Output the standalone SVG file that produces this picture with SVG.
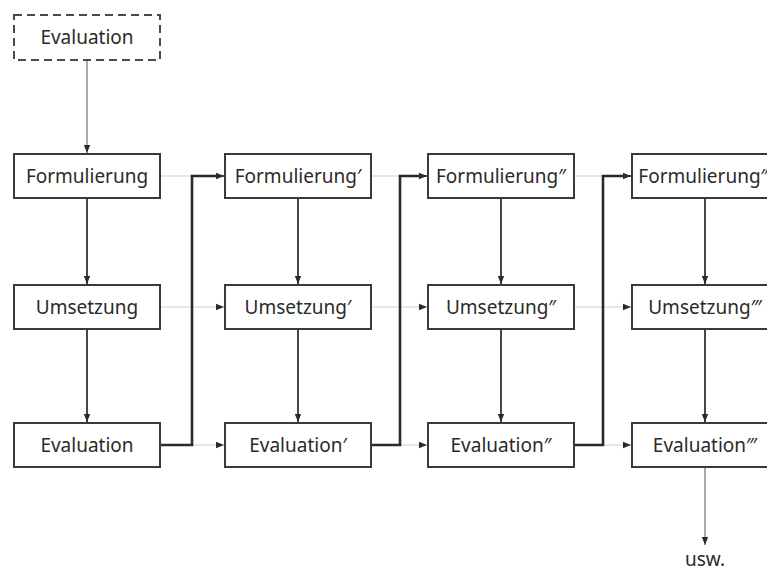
<svg xmlns="http://www.w3.org/2000/svg" width="767" height="571" viewBox="0 0 767 571">
  <style>
    .box { fill: #fff; stroke: #3a3a3a; stroke-width: 2; }
    .dash { fill: #fff; stroke: #4a4a4a; stroke-width: 2; stroke-dasharray: 8 5; }
    .lbl { font-family: "Noto Sans", "Open Sans", "DejaVu Sans", sans-serif; font-size: 19px; fill: #2a2a2a; text-anchor: middle; }
    .down { fill: none; stroke: #333; stroke-width: 1.8; marker-end: url(#head); }
    .thin { fill: none; stroke: #555; stroke-width: 1; marker-end: url(#head); }
    .faint { fill: none; stroke: #d0d0d0; stroke-width: 1; }
    .faintArrow { fill: none; stroke: #d0d0d0; stroke-width: 1; marker-end: url(#head); }
    .loop { fill: none; stroke: #2a2a2a; stroke-width: 2.6; stroke-linejoin: miter; }
  </style>
  <defs>
    <marker id="head" viewBox="0 0 10 10" refX="10" refY="5" markerWidth="8" markerHeight="8" markerUnits="userSpaceOnUse" orient="auto">
      <path d="M0,1 L10,5 L0,9 z" fill="#2a2a2a"/>
    </marker>
  </defs>

  <rect width="767" height="571" fill="#fff"/>

  <g id="connectors">
    <!-- start arrow -->
    <path class="thin" d="M87,60 V153"/>
    <!-- faint row links -->
    <path class="faint" d="M160,176 H192"/>
    <path class="faintArrow" d="M160,307 H224"/>
    <path class="faintArrow" d="M160,445 H224"/>
    <path class="faint" d="M371,176 H400"/>
    <path class="faintArrow" d="M371,307 H427"/>
    <path class="faintArrow" d="M371,445 H427"/>
    <path class="faint" d="M574,176 H603"/>
    <path class="faintArrow" d="M574,307 H631"/>
    <path class="faintArrow" d="M574,445 H631"/>
    <!-- column flows -->
    <path class="down" d="M87,198 V284"/>
    <path class="down" d="M87,329 V422"/>
    <path class="down" d="M298,198 V284"/>
    <path class="down" d="M298,329 V422"/>
    <path class="down" d="M501,198 V284"/>
    <path class="down" d="M501,329 V422"/>
    <path class="down" d="M705,198 V284"/>
    <path class="down" d="M705,329 V422"/>
    <!-- feedback loops -->
    <path class="loop" d="M160,445 H192 V176 H220"/>
    <path class="down" d="M218,176 H224"/>
    <path class="loop" d="M371,445 H400 V176 H423"/>
    <path class="down" d="M421,176 H427"/>
    <path class="loop" d="M574,445 H603 V176 H627"/>
    <path class="down" d="M625,176 H631"/>
    <!-- continuation -->
    <path class="thin" d="M705,467 V545"/>
  </g>

  <g id="eval0">
    <rect class="dash" x="14" y="15" width="146" height="45"/>
    <text class="lbl" x="87" y="44">Evaluation</text>
  </g>

  <g id="form1"><rect class="box" x="14" y="154" width="146" height="44"/><text class="lbl" x="87" y="183">Formulierung</text></g>
  <g id="ums1"><rect class="box" x="14" y="285" width="146" height="44"/><text class="lbl" x="87" y="314">Umsetzung</text></g>
  <g id="eval1"><rect class="box" x="14" y="423" width="146" height="44"/><text class="lbl" x="87" y="452">Evaluation</text></g>

  <g id="form2"><rect class="box" x="225" y="154" width="146" height="44"/><text class="lbl" x="298" y="183">Formulierung′</text></g>
  <g id="ums2"><rect class="box" x="225" y="285" width="146" height="44"/><text class="lbl" x="298" y="314">Umsetzung′</text></g>
  <g id="eval2"><rect class="box" x="225" y="423" width="146" height="44"/><text class="lbl" x="298" y="452">Evaluation′</text></g>

  <g id="form3"><rect class="box" x="428" y="154" width="146" height="44"/><text class="lbl" x="501" y="183">Formulierung″</text></g>
  <g id="ums3"><rect class="box" x="428" y="285" width="146" height="44"/><text class="lbl" x="501" y="314">Umsetzung″</text></g>
  <g id="eval3"><rect class="box" x="428" y="423" width="146" height="44"/><text class="lbl" x="501" y="452">Evaluation″</text></g>

  <g id="form4"><rect class="box" x="632" y="154" width="146" height="44"/><text class="lbl" x="705" y="183">Formulierung‴</text></g>
  <g id="ums4"><rect class="box" x="632" y="285" width="146" height="44"/><text class="lbl" x="705" y="314">Umsetzung‴</text></g>
  <g id="eval4"><rect class="box" x="632" y="423" width="146" height="44"/><text class="lbl" x="705" y="452">Evaluation‴</text></g>

  <g id="usw"><text class="lbl" x="705" y="566">usw.</text></g>
</svg>
